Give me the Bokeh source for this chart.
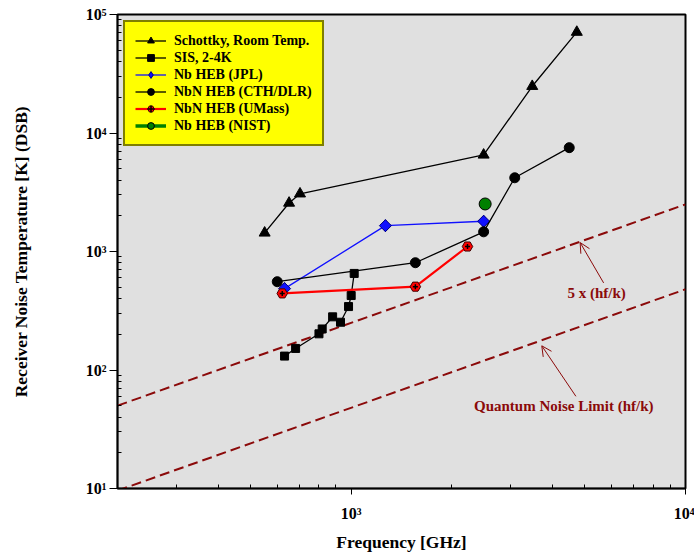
from bokeh.plotting import figure
from bokeh.embed import file_html
from bokeh.resources import INLINE
from bokeh.models import Arrow, OpenHead, Label, CustomJSTickFormatter, Range1d, FixedTicker

# ---- data (frequency in GHz, noise temperature in K, DSB) ----
schottky_f = [551, 652, 703, 2490, 3480, 4730]
schottky_T = [1435, 2566, 3070, 6530, 24800, 71000]

sis_f = [632, 682, 801, 819, 880, 929, 982, 1000, 1021]
sis_T = [131, 152, 202, 222, 281, 253, 343, 425, 653]

jpl_f = [632, 1266, 2490]
jpl_T = [486, 1652, 1800]

cth_f = [601, 1556, 2490, 3085, 4490]
cth_T = [556, 804, 1466, 4190, 7520]

umass_f = [622, 1556, 2228]
umass_T = [443, 505, 1102]

nist_f = [2516]
nist_T = [2518]

limit_f = [200, 10000]
quantum_T = [9.6, 480]        # hf/k
five_x_T = [50, 2500]         # 5 x (hf/k)

x_ticks = [1e3, 1e4]
x_minor = [200, 300, 400, 500, 600, 700, 800, 900,
           2000, 3000, 4000, 5000, 6000, 7000, 8000, 9000]
y_ticks = [1e1, 1e2, 1e3, 1e4, 1e5]
y_minor = [m * d for d in (10, 100, 1000, 10000) for m in range(2, 10)]

DARKRED = "#8b0a0a"
FONT = "Liberation Serif"

p = figure(width=694, height=554, x_axis_type="log", y_axis_type="log",
           x_range=Range1d(200, 10000), y_range=Range1d(10, 1e5),
           output_backend="svg", toolbar_location=None,
           min_border_left=117, min_border_right=9, min_border_top=14, min_border_bottom=65,
           background_fill_color="#e0e0e0", border_fill_color="white",
           outline_line_color="black", outline_line_width=2)

p.xgrid.visible = False
p.ygrid.visible = False

fmt = CustomJSTickFormatter(code="""
const sup = {"0":"\u2070","1":"\u00b9","2":"\u00b2","3":"\u00b3","4":"\u2074","5":"\u2075","6":"\u2076","7":"\u2077","8":"\u2078","9":"\u2079","-":"\u207b"};
const e = Math.round(Math.log10(tick));
return "10" + String(e).split("").map(c => sup[c]).join("");
""")

p.xaxis[0].ticker = FixedTicker(ticks=x_ticks, minor_ticks=x_minor)
p.yaxis[0].ticker = FixedTicker(ticks=y_ticks, minor_ticks=y_minor)

for ax in (p.xaxis[0], p.yaxis[0]):
    ax.formatter = fmt
    ax.major_label_text_font = FONT
    ax.major_label_text_font_style = "bold"
    ax.major_label_text_font_size = "16px"
    ax.major_label_text_color = "black"
    ax.axis_label_text_font = FONT
    ax.axis_label_text_font_style = "bold"
    ax.axis_label_text_font_size = "17.5px"
    ax.axis_label_text_color = "black"
    ax.axis_line_color = "black"
    ax.axis_line_width = 1.5
    ax.major_tick_line_color = "black"
    ax.minor_tick_line_color = "black"
    ax.major_tick_in = 0
    ax.minor_tick_out = 0
    ax.minor_tick_in = 4

p.xaxis[0].major_tick_out = 6
p.xaxis[0].major_label_standoff = 10
p.xaxis[0].axis_label = "Frequency [GHz]"
p.xaxis[0].axis_label_standoff = 7

p.yaxis[0].major_tick_out = 8
p.yaxis[0].major_label_standoff = 3
p.yaxis[0].axis_label = "Receiver Noise Temperature [K] (DSB)"
p.yaxis[0].axis_label_standoff = 52

# ---- theory lines ----
p.line(limit_f, five_x_T, line_color=DARKRED, line_width=2, line_dash="10 5")
p.line(limit_f, quantum_T, line_color=DARKRED, line_width=2, line_dash="10 5")

# ---- series ----
L = "Schottky, Room Temp."
p.line(schottky_f, schottky_T, line_color="black", line_width=1.3, legend_label=L)
p.scatter(schottky_f, schottky_T, marker="triangle", size=11, fill_color="black",
          line_color="black", legend_label=L)

L = "SIS, 2-4K"
p.line(sis_f, sis_T, line_color="black", line_width=1.3, legend_label=L)
p.scatter(sis_f, sis_T, marker="square", size=8, fill_color="black",
          line_color="black", legend_label=L)

L = "Nb HEB (JPL)"
p.line(jpl_f, jpl_T, line_color="#1010ff", line_width=1.3, legend_label=L)
# diamond (shown in the legend) lies fully under the rotated square drawn on top
p.scatter(jpl_f, jpl_T, marker="diamond", size=12, fill_color="#1010ff",
          line_color="#000080", line_width=1, legend_label=L)
p.scatter(jpl_f, jpl_T, marker="square", angle=0.785398, size=8.5, fill_color="#1010ff",
          line_color="#000080", line_width=1)

L = "NbN HEB (CTH/DLR)"
p.line(cth_f, cth_T, line_color="black", line_width=1.3, legend_label=L)
p.scatter(cth_f, cth_T, marker="circle", size=10, fill_color="black",
          line_color="black", legend_label=L)

L = "NbN HEB (UMass)"
p.line(umass_f, umass_T, line_color="#ff0000", line_width=2.2, legend_label=L)
p.scatter(umass_f, umass_T, marker="hex", size=10.5, fill_color="#ff0000",
          line_color="#400000", line_width=1, legend_label=L)
p.scatter(umass_f, umass_T, marker="cross", size=5, line_color="black",
          line_width=1.5, legend_label=L)

L = "Nb HEB (NIST)"
p.line(nist_f, nist_T, line_color="#008000", line_width=3.5, legend_label=L)
p.scatter(nist_f, nist_T, marker="circle", size=12, fill_color="#008000",
          line_color="black", line_width=1, legend_label=L)

# ---- annotations ----
p.add_layout(Arrow(end=OpenHead(line_color=DARKRED, line_width=1, size=10),
                   x_start=5690, y_start=543, x_end=4840, y_end=1190,
                   line_color=DARKRED, line_width=1))
p.add_layout(Arrow(end=OpenHead(line_color=DARKRED, line_width=1, size=10),
                   x_start=4700, y_start=60, x_end=3716, y_end=160,
                   line_color=DARKRED, line_width=1))
p.add_layout(Label(x=5420, y=443, text="5 x (hf/k)", text_align="center",
                   text_baseline="middle", text_font=FONT, text_font_style="bold",
                   text_font_size="15px", text_color=DARKRED))
p.add_layout(Label(x=4325, y=49.8, text="Quantum Noise Limit (hf/k)", text_align="center",
                   text_baseline="middle", text_font=FONT, text_font_style="bold",
                   text_font_size="15px", text_color=DARKRED))

# ---- legend ----
lg = p.legend[0]
lg.location = "top_left"
lg.margin = 6
lg.padding = 10
lg.spacing = 0
lg.glyph_width = 31
lg.glyph_height = 17
lg.label_height = 17
lg.label_standoff = 8
lg.label_text_font = FONT
lg.label_text_font_style = "bold"
lg.label_text_font_size = "14px"
lg.label_text_color = "black"
lg.background_fill_color = "#ffff00"
lg.background_fill_alpha = 1.0
lg.border_line_color = "black"
lg.border_line_width = 2

open("out.html", "w").write(file_html(p, INLINE))
